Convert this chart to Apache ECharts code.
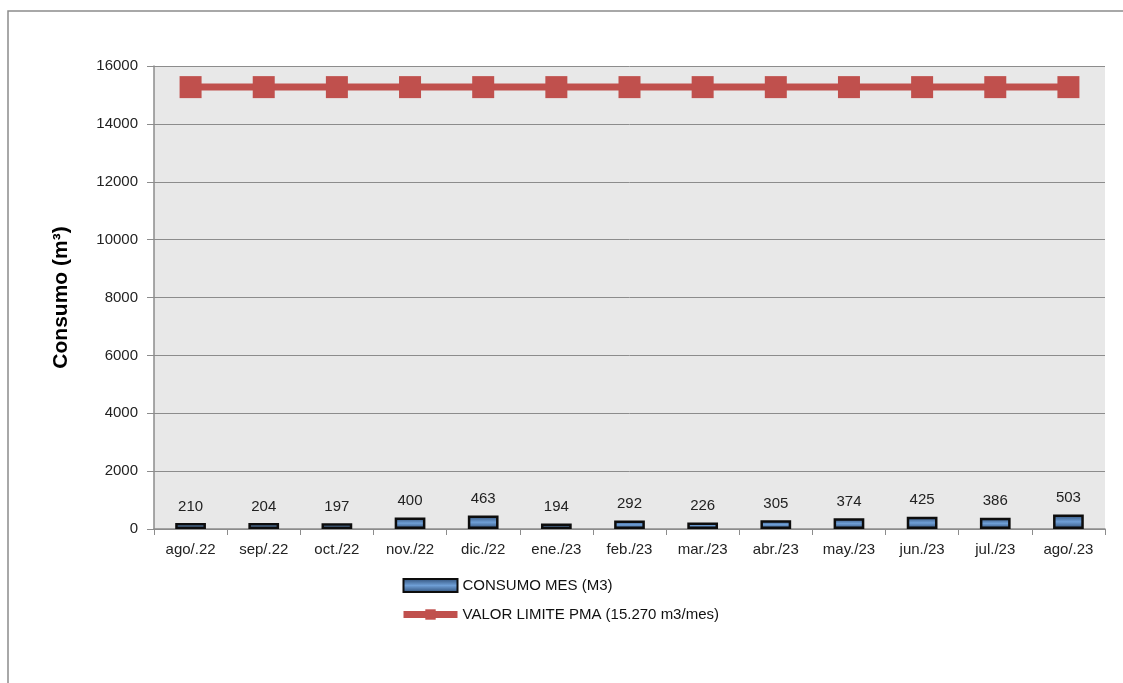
<!DOCTYPE html>
<html><head><meta charset="utf-8">
<script src="https://cdn.jsdelivr.net/npm/echarts@6/dist/echarts.min.js"></script>
<style>html,body{margin:0;padding:0;background:#fff}#c{width:1123px;height:683px}</style>
</head><body><div id="c"></div>
<script>
var categories = ['ago/.22','sep/.22','oct./22','nov./22','dic./22','ene./23','feb./23','mar./23','abr./23','may./23','jun./23','jul./23','ago/.23'];
var consumo = [210,204,197,400,463,194,292,226,305,374,425,386,503];
var limite = [15270,15270,15270,15270,15270,15270,15270,15270,15270,15270,15270,15270,15270];
var yTicks = [0,2000,4000,6000,8000,10000,12000,14000,16000];

var chart = echarts.init(document.getElementById('c'));
var barGrad = new echarts.graphic.LinearGradient(0,0,0,1,[
  {offset:0,color:'#2b4a72'},{offset:0.5,color:'#6f9fd6'},{offset:1,color:'#2b4a72'}]);
chart.setOption({
  animation:false,
  backgroundColor:'#ffffff',
  graphic:[{type:'rect',shape:{x:8,y:11,width:1200,height:800},style:{fill:'none',stroke:'#8c8c8c',lineWidth:1.5},silent:true,z:-1}],
  grid:{left:154,right:18,top:66,bottom:154,backgroundColor:'#e8e8e8',show:true,borderWidth:0},
  legend:{orient:'vertical',left:395,top:573,itemGap:14,itemWidth:54,itemHeight:13,
    textStyle:{fontFamily:'Liberation Sans, Arial',fontSize:15,color:'#111'},
    data:[{name:'CONSUMO MES (M3)',icon:'rect'},
          {name:'VALOR LIMITE PMA (15.270 m3/mes)',lineStyle:{width:7,color:'#c0504d'},itemStyle:{color:'#c0504d'}}]},
  xAxis:{type:'category',data:categories,
    axisLine:{lineStyle:{color:'#8c8c8c',width:1.5}},
    axisTick:{show:true,length:6,lineStyle:{color:'#8c8c8c'}},
    axisLabel:{color:'#222',fontFamily:'Liberation Sans, Arial',fontSize:15,margin:13,interval:0}},
  yAxis:{type:'value',min:0,max:16000,interval:2000,
    name:'Consumo (m³)',nameLocation:'middle',nameGap:82,
    nameTextStyle:{fontFamily:'Liberation Sans, Arial',fontSize:21,fontWeight:'bold',color:'#000'},
    axisLine:{show:true,lineStyle:{color:'#8c8c8c',width:1.5}},
    axisTick:{show:true,length:7,lineStyle:{color:'#8c8c8c'}},
    splitLine:{lineStyle:{color:'#8c8c8c',width:1}},
    axisLabel:{color:'#222',fontFamily:'Liberation Sans, Arial',fontSize:15,margin:16,
      formatter:function(v){return yTicks.indexOf(v)>=0?String(v):'';}}},
  series:[
    {name:'CONSUMO MES (M3)',type:'bar',data:consumo,barWidth:'42%',
      itemStyle:{color:barGrad,borderColor:'#0d0d0d',borderWidth:2.5},
      label:{show:true,position:'top',distance:9,color:'#222',fontFamily:'Liberation Sans, Arial',fontSize:15}},
    {name:'VALOR LIMITE PMA (15.270 m3/mes)',type:'line',data:limite,
      symbol:'rect',symbolSize:22,
      lineStyle:{color:'#c0504d',width:7},
      itemStyle:{color:'#c0504d'}}
  ]
});
</script></body></html>
